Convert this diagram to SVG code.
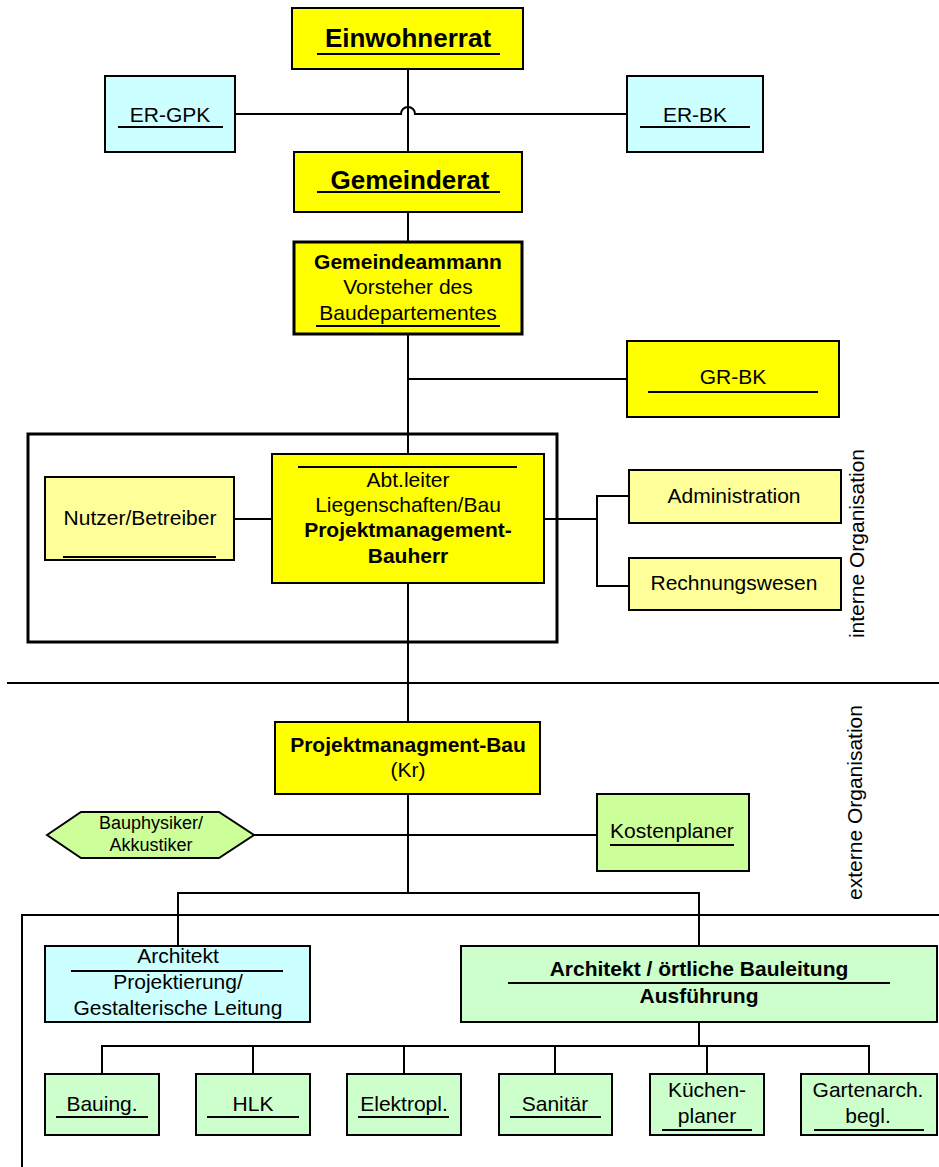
<svg xmlns="http://www.w3.org/2000/svg" width="939" height="1167" viewBox="0 0 939 1167">
<style>
text{font-family:"Liberation Sans",Arial,sans-serif;font-size:21px;fill:#000;text-anchor:middle}
.b{font-weight:bold}
.big{font-size:26px;font-weight:bold}
.sm{font-size:18px}
.rot{text-anchor:middle}
.box{stroke:#000;stroke-width:2}
.thk{stroke:#000;stroke-width:3}
.y{fill:#FFFF00}
.ly{fill:#FFFF99}
.c{fill:#CCFFFF}
.g{fill:#CCFFCC}
.yg{fill:#CCFF99}
.ul{stroke:#000;stroke-width:2}
.con{stroke:#000;stroke-width:2;fill:none}
</style>
<g id="connectors">
<path class="con" d="M408,69V152"/>
<path class="con" d="M235,114H401A7,7 0 0 1 415,114H627"/>
<path class="con" d="M408,212V242"/>
<path class="con" d="M408,334V454"/>
<path class="con" d="M408,379H627"/>
<path class="con" d="M234,519H272"/>
<path class="con" d="M544,519H597M629,496H597V586H629"/>
<path class="con" d="M408,583V722"/>
<path class="con" d="M408,794V893"/>
<path class="con" d="M254,835H597"/>
<path class="con" d="M178,946V893H699V946"/>
<path class="con" d="M699,1022V1046"/>
<path class="con" d="M102,1074V1046H869V1074M253,1046V1074M404,1046V1074M555,1046V1074M707,1046V1074"/>
</g>
<g id="separators">
<path class="con" d="M7,683H939"/>
<path class="con" d="M21,915H939M22,915V1167"/>
</g>
<g id="labels">
<text transform="translate(864,543.5) rotate(-90)">interne Organisation</text>
<text transform="translate(862,802.5) rotate(-90)">externe Organisation</text>
</g>
<g id="einwohnerrat">
<rect class="box y" x="292" y="8" width="231" height="61"/>
<text class="big" x="408" y="47">Einwohnerrat</text>
<line class="ul" x1="317" y1="54" x2="500" y2="54"/>
</g>
<g id="er-gpk">
<rect class="box c" x="105" y="76" width="130" height="76"/>
<text x="170" y="122">ER-GPK</text>
<line class="ul" x1="118" y1="127" x2="223" y2="127"/>
</g>
<g id="er-bk">
<rect class="box c" x="627" y="76" width="136" height="76"/>
<text x="695" y="122">ER-BK</text>
<line class="ul" x1="640" y1="127" x2="750" y2="127"/>
</g>
<g id="gemeinderat">
<rect class="box y" x="294" y="152" width="228" height="60"/>
<text class="big" x="410" y="189">Gemeinderat</text>
<line class="ul" x1="317" y1="192" x2="500" y2="192"/>
</g>
<g id="gemeindeammann">
<rect class="thk y" x="294" y="242" width="228" height="92"/>
<text class="b" x="408" y="269">Gemeindeammann</text>
<text x="408" y="294">Vorsteher des</text>
<text x="408" y="320">Baudepartementes</text>
<line class="ul" x1="316" y1="326" x2="500" y2="326"/>
</g>
<g id="gr-bk">
<rect class="box y" x="627" y="341" width="212" height="76"/>
<text x="733" y="384">GR-BK</text>
<line class="ul" x1="648" y1="392" x2="818" y2="392"/>
</g>
<g id="interne-gruppe">
<rect class="thk" fill="none" x="28" y="434" width="529" height="208"/>
</g>
<g id="nutzer">
<rect class="box ly" x="45" y="477" width="189" height="83"/>
<text x="140" y="525">Nutzer/Betreiber</text>
<line class="ul" x1="63" y1="557" x2="216" y2="557"/>
</g>
<g id="abtleiter">
<rect class="box y" x="272" y="454" width="272" height="129"/>
<line class="ul" x1="298" y1="467" x2="517" y2="467"/>
<text x="408" y="487">Abt.leiter</text>
<text x="408" y="512">Liegenschaften/Bau</text>
<text class="b" x="408" y="537">Projektmanagement-</text>
<text class="b" x="408" y="563">Bauherr</text>
</g>
<g id="administration">
<rect class="box ly" x="629" y="470" width="212" height="53"/>
<text x="734" y="503">Administration</text>
</g>
<g id="rechnungswesen">
<rect class="box ly" x="629" y="558" width="212" height="52"/>
<text x="734" y="590">Rechnungswesen</text>
</g>
<g id="pm-bau">
<rect class="box y" x="275" y="722" width="265" height="72"/>
<text class="b" x="408" y="752">Projektmanagment-Bau</text>
<text x="408" y="777">(Kr)</text>
</g>
<g id="bauphysiker">
<polygon class="box yg" points="47,835 81,812 219,812 254,835 219,858 81,858"/>
<text class="sm" x="151" y="829">Bauphysiker/</text>
<text class="sm" x="151" y="851">Akkustiker</text>
</g>
<g id="kostenplaner">
<rect class="box yg" x="597" y="794" width="152" height="77"/>
<text x="672" y="838">Kostenplaner</text>
<line class="ul" x1="610" y1="845" x2="734" y2="845"/>
</g>
<g id="architekt-projekt">
<rect class="box c" x="45" y="946" width="265" height="76"/>
<text x="178" y="963">Architekt</text>
<line class="ul" x1="71" y1="971" x2="283" y2="971"/>
<text x="178" y="989">Projektierung/</text>
<text x="178" y="1015">Gestalterische Leitung</text>
</g>
<g id="architekt-bauleitung">
<rect class="box g" x="461" y="946" width="476" height="76"/>
<text class="b" x="699" y="976">Architekt / örtliche Bauleitung</text>
<line class="ul" x1="508" y1="983" x2="890" y2="983"/>
<text class="b" x="699" y="1003">Ausführung</text>
</g>
<g id="bauing">
<rect class="box g" x="45" y="1074" width="114" height="61"/>
<text x="102" y="1111">Bauing.</text>
<line class="ul" x1="56" y1="1117" x2="148" y2="1117"/>
</g>
<g id="hlk">
<rect class="box g" x="196" y="1074" width="114" height="61"/>
<text x="253" y="1111">HLK</text>
<line class="ul" x1="207" y1="1117" x2="299" y2="1117"/>
</g>
<g id="elektropl">
<rect class="box g" x="347" y="1074" width="114" height="61"/>
<text x="404" y="1111">Elektropl.</text>
<line class="ul" x1="358" y1="1117" x2="449" y2="1117"/>
</g>
<g id="sanitaer">
<rect class="box g" x="499" y="1074" width="113" height="61"/>
<text x="555" y="1111">Sanitär</text>
<line class="ul" x1="510" y1="1117" x2="601" y2="1117"/>
</g>
<g id="kuechenplaner">
<rect class="box g" x="650" y="1074" width="114" height="61"/>
<text x="707" y="1097">Küchen-</text>
<text x="707" y="1123">planer</text>
<line class="ul" x1="662" y1="1130" x2="752" y2="1130"/>
</g>
<g id="gartenarch">
<rect class="box g" x="801" y="1074" width="136" height="61"/>
<text x="868" y="1097">Gartenarch.</text>
<text x="868" y="1123">begl.</text>
<line class="ul" x1="814" y1="1130" x2="924" y2="1130"/>
</g>
</svg>
